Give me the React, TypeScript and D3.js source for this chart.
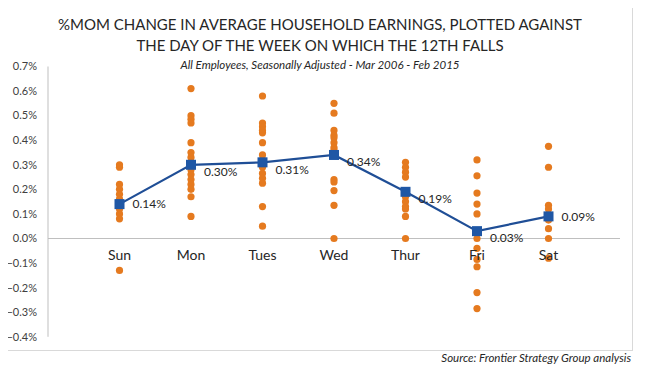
import React, { useEffect, useRef } from "react";
import * as d3 from "d3";

// day of the week on which the 12th falls
const days = ["Sun", "Mon", "Tues", "Wed", "Thur", "Fri", "Sat"];

// monthly % change in average household earnings, grouped by day
const sunValues = [0.3, 0.29, 0.22, 0.2, 0.18, 0.16, 0.14, 0.12, 0.1, 0.08, -0.13];
const monValues = [0.61, 0.5, 0.485, 0.47, 0.39, 0.35, 0.33, 0.31, 0.28, 0.26, 0.24, 0.22, 0.2, 0.17, 0.09];
const tuesValues = [0.58, 0.47, 0.455, 0.44, 0.43, 0.39, 0.34, 0.32, 0.29, 0.265, 0.245, 0.225, 0.13, 0.05];
const wedValues = [0.55, 0.51, 0.44, 0.42, 0.41, 0.39, 0.37, 0.36, 0.24, 0.23, 0.195, 0.135, 0.0];
const thurValues = [0.31, 0.29, 0.27, 0.25, 0.17, 0.15, 0.13, 0.12, 0.09, 0.0];
const friValues = [0.32, 0.255, 0.185, 0.14, 0.1, 0.0, -0.04, -0.085, -0.115, -0.22, -0.285];
const satValues = [0.375, 0.29, 0.135, 0.12, 0.075, 0.04, 0.0, -0.08];

// average for each day
const averages = [0.14, 0.3, 0.31, 0.34, 0.19, 0.03, 0.09];

const yTicks = [0.7, 0.6, 0.5, 0.4, 0.3, 0.2, 0.1, 0.0, -0.1, -0.2, -0.3, -0.4];

const FONT = "Lato, 'Open Sans', sans-serif";

const EarningsChart = () => {
  const chartRef = useRef(null);

  useEffect(() => {
    drawChart();
  }, []);

  const drawChart = () => {
    const width = 646;
    const height = 372;

    d3.select(chartRef.current).select("svg").remove();

    const svg = d3
      .select(chartRef.current)
      .append("svg")
      .attr("width", width)
      .attr("height", height)
      .style("display", "block");

    svg.append("rect").attr("width", width).attr("height", height).attr("fill", "#fff");

    // chart area border
    svg
      .append("rect")
      .attr("x", 7.5)
      .attr("y", 7.5)
      .attr("width", 625)
      .attr("height", 343)
      .attr("fill", "none")
      .attr("stroke", "#d9d9d9");

    // x runs 0..8 so that the days sit at 1..7
    const x = d3.scaleLinear().domain([0, 8]).range([48, 620]);
    const y = d3.scaleLinear().domain([-0.4, 0.7]).range([336.8, 66.5]);

    // titles
    const titles = svg.append("g").attr("text-anchor", "middle").attr("fill", "#262626");
    titles
      .append("text")
      .attr("x", 320)
      .attr("y", 30)
      .style("font", `15px ${FONT}`)
      .text("%MOM CHANGE IN AVERAGE HOUSEHOLD EARNINGS, PLOTTED AGAINST");
    titles
      .append("text")
      .attr("x", 320)
      .attr("y", 51)
      .style("font", `15px ${FONT}`)
      .text("THE DAY OF THE WEEK ON WHICH THE 12TH FALLS");
    titles
      .append("text")
      .attr("x", 320)
      .attr("y", 69)
      .style("font", `italic 11.5px ${FONT}`)
      .text("All Employees, Seasonally Adjusted - Mar 2006 - Feb 2015");

    // axes
    svg
      .append("line")
      .attr("x1", x(0))
      .attr("x2", x(0))
      .attr("y1", y(0.7))
      .attr("y2", y(-0.4))
      .attr("stroke", "#bfbfbf");
    svg
      .append("line")
      .attr("x1", x(0))
      .attr("x2", x(8))
      .attr("y1", y(0))
      .attr("y2", y(0))
      .attr("stroke", "#bfbfbf");

    svg
      .append("g")
      .selectAll("text")
      .data(yTicks)
      .enter()
      .append("text")
      .attr("x", 37)
      .attr("y", (d) => y(d))
      .attr("dy", "0.35em")
      .attr("text-anchor", "end")
      .attr("fill", "#404040")
      .style("font", `11px ${FONT}`)
      .text((d) => d3.format(".1f")(d) + "%");

    // individual months
    const groups = [sunValues, monValues, tuesValues, wedValues, thurValues, friValues, satValues];
    const points = groups.flatMap((vals, i) => vals.map((v) => ({ day: i + 1, v })));

    svg
      .append("g")
      .selectAll("circle")
      .data(points)
      .enter()
      .append("circle")
      .attr("cx", (d) => x(d.day))
      .attr("cy", (d) => y(d.v))
      .attr("r", 3.6)
      .attr("fill", "#e57a1f");

    // day labels just under the zero line
    svg
      .append("g")
      .selectAll("text")
      .data(days)
      .enter()
      .append("text")
      .attr("x", (_, i) => x(i + 1))
      .attr("y", y(0) + 21)
      .attr("text-anchor", "middle")
      .attr("fill", "#262626")
      .style("font", `14px ${FONT}`)
      .text((d) => d);

    // average line with square markers
    const line = d3
      .line()
      .x((_, i) => x(i + 1))
      .y((d) => y(d));

    svg
      .append("path")
      .datum(averages)
      .attr("d", line)
      .attr("fill", "none")
      .attr("stroke", "#1f4e96")
      .attr("stroke-width", 2.2);

    svg
      .append("g")
      .selectAll("rect")
      .data(averages)
      .enter()
      .append("rect")
      .attr("x", (_, i) => x(i + 1) - 5)
      .attr("y", (d) => y(d) - 5)
      .attr("width", 10)
      .attr("height", 10)
      .attr("fill", "#1f57a5");

    // push a label down when the next segment would run through it
    const labelDrop = (i) => {
      if (i >= averages.length - 1) return 0;
      const rise = y(averages[i]) - y(averages[i + 1]);
      return rise < 20 ? 7 : 0;
    };

    svg
      .append("g")
      .selectAll("text")
      .data(averages)
      .enter()
      .append("text")
      .attr("x", (_, i) => x(i + 1) + 13)
      .attr("y", (d, i) => y(d) + labelDrop(i))
      .attr("dy", "0.35em")
      .attr("fill", "#262626")
      .style("font", `12px ${FONT}`)
      .text((d) => d3.format(".2f")(d) + "%");

    svg
      .append("text")
      .attr("x", 631)
      .attr("y", 362)
      .attr("text-anchor", "end")
      .attr("fill", "#262626")
      .style("font", `italic 11.5px ${FONT}`)
      .text("Source: Frontier Strategy Group analysis");
  };

  return <div ref={chartRef}></div>;
};

export default function App() {
  return (
    <div style={{ margin: -8 }}>
      <EarningsChart />
    </div>
  );
}
